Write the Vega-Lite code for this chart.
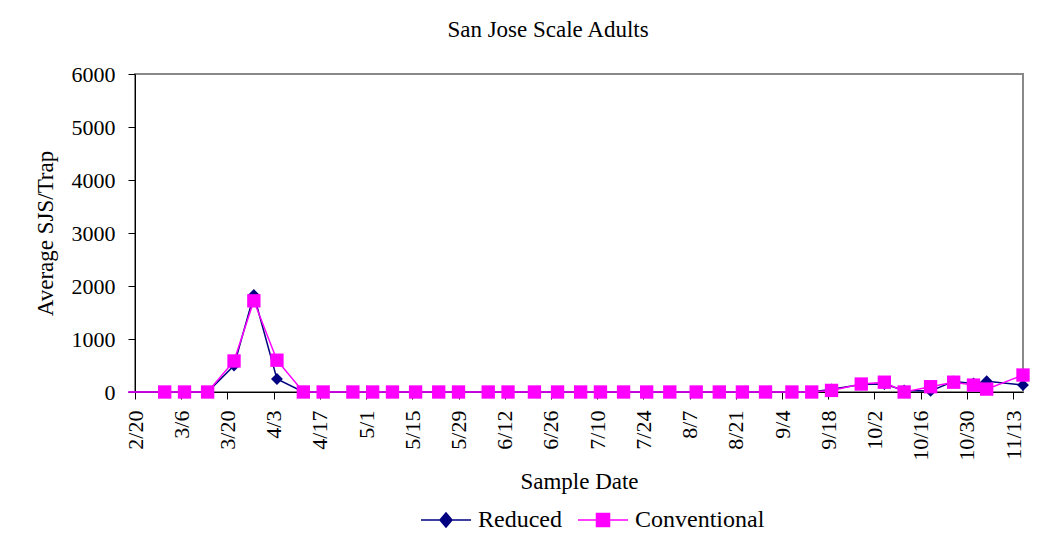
{
  "$schema": "https://vega.github.io/schema/vega-lite/v6.json",
  "width": 888,
  "height": 318,
  "autosize": "none",
  "padding": {"left": 135, "top": 74, "right": 31, "bottom": 145},
  "background": "white",
  "title": {
    "text": "San Jose Scale Adults",
    "font": "Liberation Serif",
    "fontSize": 23,
    "fontWeight": "normal",
    "color": "black",
    "anchor": "middle",
    "frame": "group",
    "dx": -31,
    "offset": -2,
    "baseline": "bottom"
  },
  "config": {
    "view": {"stroke": "#888888", "strokeWidth": 2},
    "axis": {
      "grid": false,
      "domainColor": "black",
      "domainWidth": 1,
      "tickColor": "black",
      "tickSize": 7,
      "labelFont": "Liberation Serif",
      "labelFontSize": 22,
      "labelColor": "black",
      "titleFont": "Liberation Serif",
      "titleFontSize": 23,
      "titleFontWeight": "normal",
      "titleColor": "black"
    }
  },
  "data": {
    "values": [
      {"date": "2007-02-18", "series": "Reduced", "value": 0},
      {"date": "2007-03-01", "series": "Reduced", "value": 0},
      {"date": "2007-03-07", "series": "Reduced", "value": 0},
      {"date": "2007-03-14", "series": "Reduced", "value": 0},
      {"date": "2007-03-22", "series": "Reduced", "value": 500},
      {"date": "2007-03-28", "series": "Reduced", "value": 1830},
      {"date": "2007-04-04", "series": "Reduced", "value": 245},
      {"date": "2007-04-12", "series": "Reduced", "value": 0},
      {"date": "2007-04-18", "series": "Reduced", "value": 0},
      {"date": "2007-04-27", "series": "Reduced", "value": 0},
      {"date": "2007-05-03", "series": "Reduced", "value": 0},
      {"date": "2007-05-09", "series": "Reduced", "value": 0},
      {"date": "2007-05-16", "series": "Reduced", "value": 0},
      {"date": "2007-05-23", "series": "Reduced", "value": 0},
      {"date": "2007-05-29", "series": "Reduced", "value": 0},
      {"date": "2007-06-07", "series": "Reduced", "value": 0},
      {"date": "2007-06-13", "series": "Reduced", "value": 0},
      {"date": "2007-06-21", "series": "Reduced", "value": 0},
      {"date": "2007-06-28", "series": "Reduced", "value": 0},
      {"date": "2007-07-05", "series": "Reduced", "value": 0},
      {"date": "2007-07-11", "series": "Reduced", "value": 0},
      {"date": "2007-07-18", "series": "Reduced", "value": 0},
      {"date": "2007-07-25", "series": "Reduced", "value": 0},
      {"date": "2007-08-01", "series": "Reduced", "value": 0},
      {"date": "2007-08-09", "series": "Reduced", "value": 0},
      {"date": "2007-08-16", "series": "Reduced", "value": 0},
      {"date": "2007-08-23", "series": "Reduced", "value": 0},
      {"date": "2007-08-30", "series": "Reduced", "value": 0},
      {"date": "2007-09-07", "series": "Reduced", "value": 0},
      {"date": "2007-09-13", "series": "Reduced", "value": 0},
      {"date": "2007-09-19", "series": "Reduced", "value": 50},
      {"date": "2007-09-28", "series": "Reduced", "value": 140},
      {"date": "2007-10-05", "series": "Reduced", "value": 150},
      {"date": "2007-10-11", "series": "Reduced", "value": 30},
      {"date": "2007-10-19", "series": "Reduced", "value": 20},
      {"date": "2007-10-26", "series": "Reduced", "value": 200},
      {"date": "2007-11-01", "series": "Reduced", "value": 160},
      {"date": "2007-11-05", "series": "Reduced", "value": 205},
      {"date": "2007-11-16", "series": "Reduced", "value": 130},
      {"date": "2007-02-18", "series": "Conventional", "value": 0},
      {"date": "2007-03-01", "series": "Conventional", "value": 0},
      {"date": "2007-03-07", "series": "Conventional", "value": 0},
      {"date": "2007-03-14", "series": "Conventional", "value": 0},
      {"date": "2007-03-22", "series": "Conventional", "value": 585},
      {"date": "2007-03-28", "series": "Conventional", "value": 1720},
      {"date": "2007-04-04", "series": "Conventional", "value": 600},
      {"date": "2007-04-12", "series": "Conventional", "value": 0},
      {"date": "2007-04-18", "series": "Conventional", "value": 0},
      {"date": "2007-04-27", "series": "Conventional", "value": 0},
      {"date": "2007-05-03", "series": "Conventional", "value": 0},
      {"date": "2007-05-09", "series": "Conventional", "value": 0},
      {"date": "2007-05-16", "series": "Conventional", "value": 0},
      {"date": "2007-05-23", "series": "Conventional", "value": 0},
      {"date": "2007-05-29", "series": "Conventional", "value": 0},
      {"date": "2007-06-07", "series": "Conventional", "value": 0},
      {"date": "2007-06-13", "series": "Conventional", "value": 0},
      {"date": "2007-06-21", "series": "Conventional", "value": 0},
      {"date": "2007-06-28", "series": "Conventional", "value": 0},
      {"date": "2007-07-05", "series": "Conventional", "value": 0},
      {"date": "2007-07-11", "series": "Conventional", "value": 0},
      {"date": "2007-07-18", "series": "Conventional", "value": 0},
      {"date": "2007-07-25", "series": "Conventional", "value": 0},
      {"date": "2007-08-01", "series": "Conventional", "value": 0},
      {"date": "2007-08-09", "series": "Conventional", "value": 0},
      {"date": "2007-08-16", "series": "Conventional", "value": 0},
      {"date": "2007-08-23", "series": "Conventional", "value": 0},
      {"date": "2007-08-30", "series": "Conventional", "value": 0},
      {"date": "2007-09-07", "series": "Conventional", "value": 0},
      {"date": "2007-09-13", "series": "Conventional", "value": 0},
      {"date": "2007-09-19", "series": "Conventional", "value": 30},
      {"date": "2007-09-28", "series": "Conventional", "value": 150},
      {"date": "2007-10-05", "series": "Conventional", "value": 185},
      {"date": "2007-10-11", "series": "Conventional", "value": 0},
      {"date": "2007-10-19", "series": "Conventional", "value": 100},
      {"date": "2007-10-26", "series": "Conventional", "value": 185},
      {"date": "2007-11-01", "series": "Conventional", "value": 130},
      {"date": "2007-11-05", "series": "Conventional", "value": 55},
      {"date": "2007-11-16", "series": "Conventional", "value": 320}
    ]
  },
  "encoding": {
    "x": {
      "field": "date",
      "type": "temporal",
      "scale": {
        "type": "utc",
        "domain": [
          {"year": 2007, "month": 2, "date": 20, "utc": true},
          {"year": 2007, "month": 11, "date": 16, "utc": true}
        ]
      },
      "axis": {
        "title": "Sample Date",
        "values": [
          {"year": 2007, "month": 2, "date": 20, "utc": true},
          {"year": 2007, "month": 3, "date": 6, "utc": true},
          {"year": 2007, "month": 3, "date": 20, "utc": true},
          {"year": 2007, "month": 4, "date": 3, "utc": true},
          {"year": 2007, "month": 4, "date": 17, "utc": true},
          {"year": 2007, "month": 5, "date": 1, "utc": true},
          {"year": 2007, "month": 5, "date": 15, "utc": true},
          {"year": 2007, "month": 5, "date": 29, "utc": true},
          {"year": 2007, "month": 6, "date": 12, "utc": true},
          {"year": 2007, "month": 6, "date": 26, "utc": true},
          {"year": 2007, "month": 7, "date": 10, "utc": true},
          {"year": 2007, "month": 7, "date": 24, "utc": true},
          {"year": 2007, "month": 8, "date": 7, "utc": true},
          {"year": 2007, "month": 8, "date": 21, "utc": true},
          {"year": 2007, "month": 9, "date": 4, "utc": true},
          {"year": 2007, "month": 9, "date": 18, "utc": true},
          {"year": 2007, "month": 10, "date": 2, "utc": true},
          {"year": 2007, "month": 10, "date": 16, "utc": true},
          {"year": 2007, "month": 10, "date": 30, "utc": true},
          {"year": 2007, "month": 11, "date": 13, "utc": true}
        ],
        "labelExpr": "utcFormat(datum.value, '%-m/%-d')",
        "labelAngle": 270,
        "labelPadding": 11,
        "labelFlush": false,
        "labelOverlap": false,
        "labelBound": false,
        "titlePadding": 10
      }
    },
    "y": {
      "field": "value",
      "type": "quantitative",
      "scale": {"domain": [0, 6000]},
      "axis": {
        "title": "Average SJS/Trap",
        "values": [0, 1000, 2000, 3000, 4000, 5000, 6000],
        "format": "d",
        "labelPadding": 13,
        "titlePadding": 14
      }
    },
    "color": {
      "field": "series",
      "type": "nominal",
      "scale": {"domain": ["Reduced", "Conventional"], "range": ["#000080", "#FF00FF"]},
      "legend": {
        "title": null,
        "orient": "none",
        "legendX": 285,
        "legendY": 420,
        "direction": "horizontal",
        "symbolSize": 2500,
        "labelFont": "Liberation Serif",
        "labelFontSize": 24,
        "labelColor": "black",
        "labelOffset": 6,
        "columnPadding": 13,
        "padding": 0,
        "encode": {
          "symbols": {
            "update": {
              "shape": {"signal": "datum.value === 'Reduced' ? 'M-1,0H-0.24M0.24,0H1M-0.24,0L0,-0.28L0.24,0L0,0.28Z' : 'M-1,0H-0.26M0.26,0H1M-0.26,-0.26H0.26V0.26H-0.26Z'"},
              "stroke": {"signal": "datum.value === 'Reduced' ? '#000080' : '#FF00FF'"},
              "fill": {"signal": "datum.value === 'Reduced' ? '#000080' : '#FF00FF'"},
              "strokeWidth": {"value": 1.5},
              "opacity": {"value": 1}
            }
          }
        }
      }
    }
  },
  "layer": [
    {
      "transform": [{"filter": "datum.series === 'Reduced'"}],
      "mark": {"type": "line", "strokeWidth": 1.5, "clip": false}
    },
    {
      "transform": [{"filter": "datum.series === 'Reduced' && datum.date > utc(2007, 1, 19)"}],
      "mark": {"type": "point", "shape": "diamond", "filled": true, "opacity": 1, "size": 140, "clip": false}
    },
    {
      "transform": [{"filter": "datum.series === 'Conventional'"}],
      "mark": {"type": "line", "strokeWidth": 1.5, "clip": false}
    },
    {
      "transform": [{"filter": "datum.series === 'Conventional' && datum.date > utc(2007, 1, 19)"}],
      "mark": {"type": "point", "shape": "square", "filled": true, "opacity": 1, "size": 178, "clip": false}
    }
  ]
}
